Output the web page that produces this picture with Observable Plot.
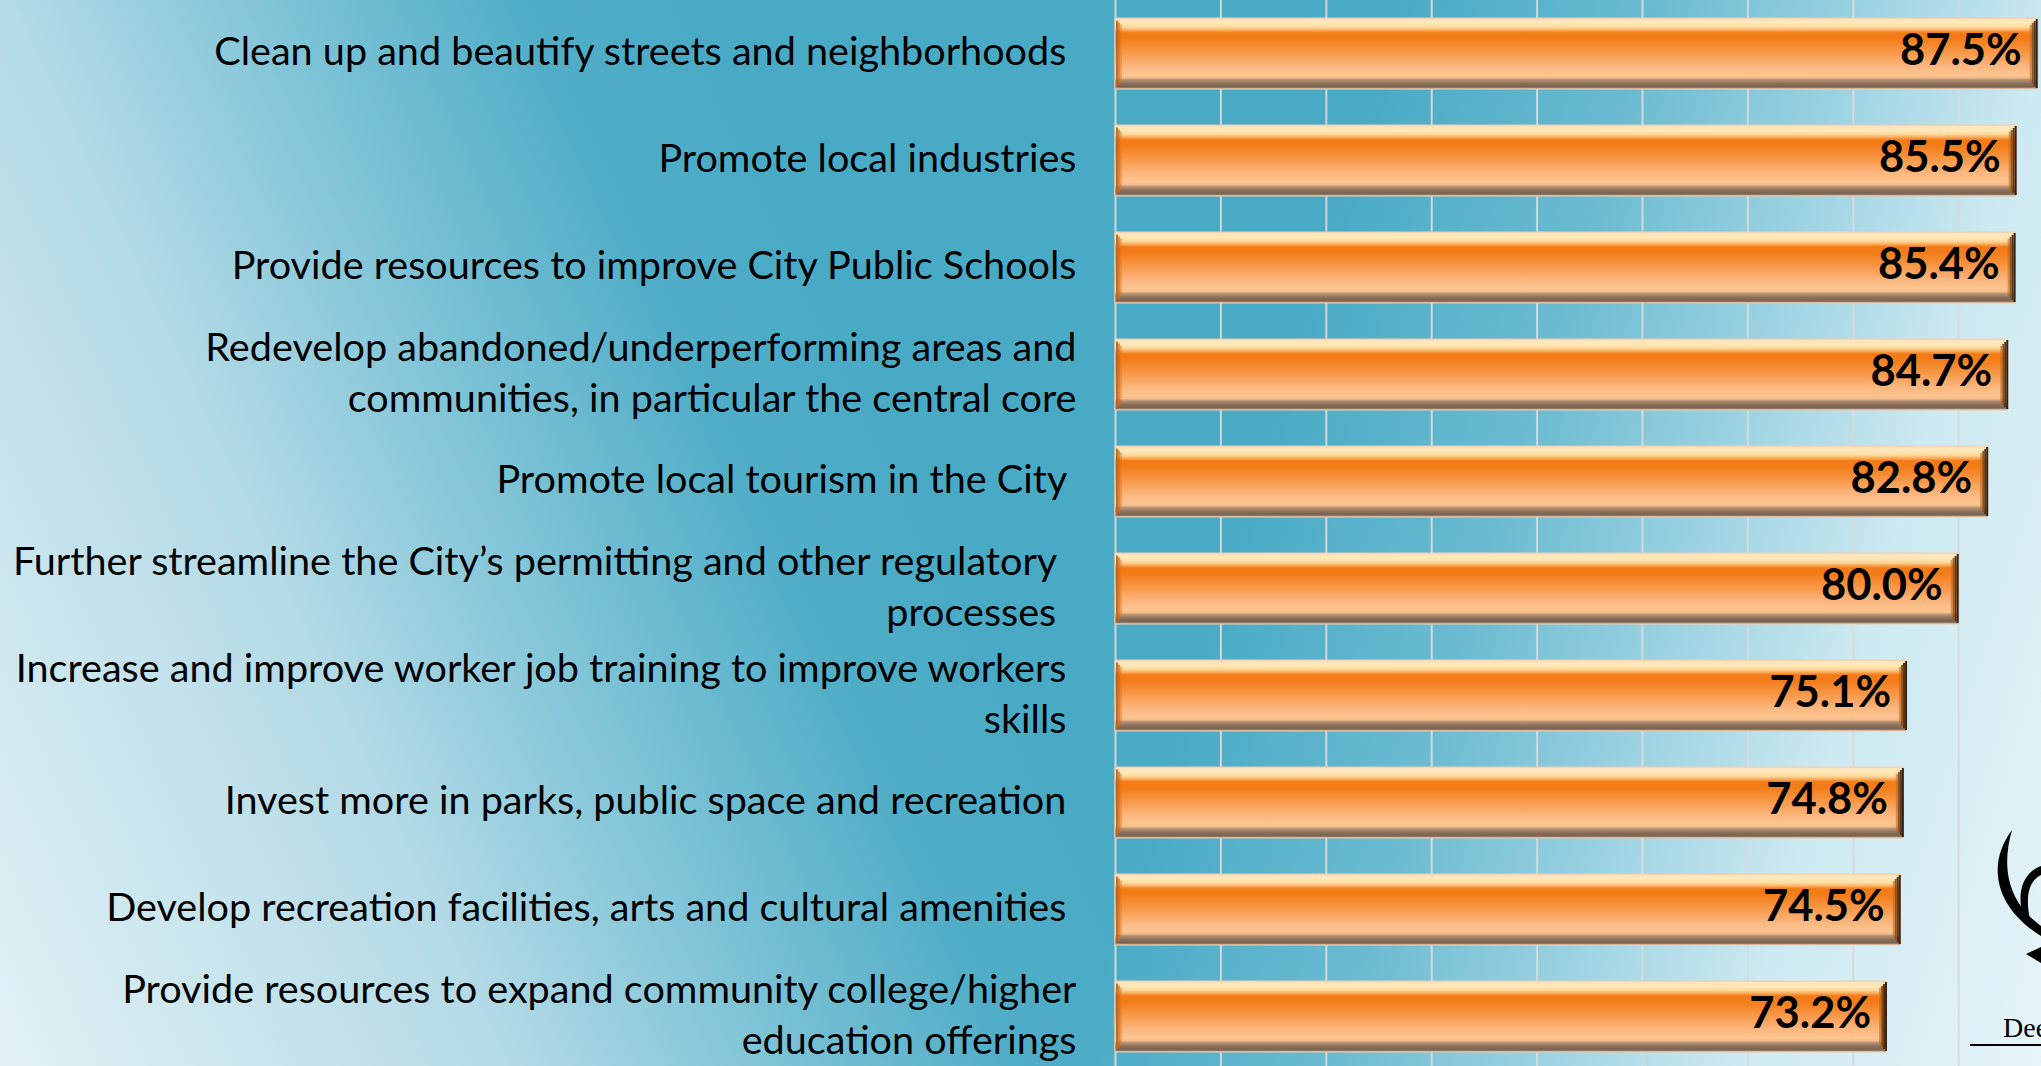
<!DOCTYPE html>
<html>
<head>
<meta charset="utf-8">
<script src="https://cdn.jsdelivr.net/npm/d3@7"></script>
<script src="https://cdn.jsdelivr.net/npm/@observablehq/plot@0.6"></script>
<style>
  html, body { margin: 0; padding: 0; }
  #stage {
    position: relative;
    width: 2041px;
    height: 1066px;
    overflow: hidden;
    background:
      linear-gradient(65deg, rgba(226,241,246,1) 0%, rgba(179,218,230,1) 20%, rgba(134,199,217,0.9) 30%, rgba(88,177,202,0.5) 40%, rgba(73,170,197,0) 47%),
      linear-gradient(107deg, rgba(73,170,197,0) 59%, rgba(120,194,214,0.7) 70%, rgba(172,218,231,0.9) 80%, rgba(205,233,241,1) 87%, rgba(230,244,248,1) 100%),
      #49aac5;
  }
  #chart svg { display: block; }
  #logo { position: absolute; left: 1960px; top: 820px; }
</style>
</head>
<body>
<div id="stage">
  <div id="chart"></div>
  <svg id="logo" width="81" height="246" viewBox="1960 820 81 246">
    <path d="M 2012 830 C 1988 862, 1992 905, 2041 936 L 2041 926 C 2008 902, 2001 868, 2012 830 Z" fill="#000"/>
    <path d="M 2041 866 C 2024 872, 2016 892, 2023 914 L 2030 920 C 2025 896, 2029 881, 2041 875 Z" fill="#000"/>
    <path d="M 2026 954 L 2041 947 L 2041 963 Z" fill="#000"/>
    <text x="2003" y="1037" font-family="Liberation Serif, DejaVu Serif, serif" font-size="28" fill="#000">Dee</text>
    <line x1="1970" y1="1045" x2="2041" y2="1045" stroke="#000" stroke-width="2"/>
  </svg>
</div>
<script>
// ---- data ----
const labels = [
  "Clean up and beautify streets and neighborhoods\u00a0",
  "Promote local industries",
  "Provide resources to improve City Public Schools",
  "Redevelop abandoned/underperforming areas and\ncommunities, in particular the central core",
  "Promote local tourism in the City\u00a0",
  "Further streamline the City\u2019s permitting and other regulatory\u00a0\u00a0\nprocesses\u00a0\u00a0",
  "Increase and improve worker job training to improve workers\u00a0\nskills\u00a0",
  "Invest more in parks, public space and recreation\u00a0",
  "Develop recreation facilities, arts and cultural amenities\u00a0",
  "Provide resources to expand community college/higher\neducation offerings"
];
const values = [87.5, 85.5, 85.4, 84.7, 82.8, 80.0, 75.1, 74.8, 74.5, 73.2];
const gridTicks = [0, 10, 20, 30, 40, 50, 60, 70, 80];

const rows = labels.map((label, i) => ({label, value: values[i]}));

const W = 2041, H = 1066;
const font = "Lato, 'Open Sans', sans-serif";

const rightBevel = [
  {dx: -1, color: "#35231a", inset: 1, op: 1},
  {dx: -3, color: "#553419", inset: 3, op: 1},
  {dx: -5, color: "#86501e", inset: 5, op: 0.95},
  {dx: -7, color: "#c26a22", inset: 7, op: 0.6}
];
const leftBevel = [
  {dx: 1.5, color: "#b8641f", inset: 1.5, op: 0.9},
  {dx: 3.5, color: "#cf6c1c", inset: 3.5, op: 0.7},
  {dx: 5.5, color: "#e2741a", inset: 5.5, op: 0.45}
];

const chart = Plot.plot({
  width: W,
  height: H,
  marginLeft: 1115,
  marginRight: 0,
  marginTop: 0,
  marginBottom: 0,
  style: {background: "transparent", fontFamily: font, overflow: "hidden"},
  x: {domain: [0, (W - 1115) / 10.54], axis: null},
  y: {type: "band", domain: labels, range: [-4, 1075], paddingInner: 0.333, paddingOuter: 0.1665, axis: null},
  marks: [
    Plot.ruleX(gridTicks, {stroke: "#d9d9d9", strokeWidth: 2, strokeOpacity: 0.95}),
    Plot.barX(rows, {x: "value", y: "label", fill: "url(#barGrad)", stroke: "#f0cfb2", strokeWidth: 1}),
    ...rightBevel.map(b => Plot.tickX(rows, {x: "value", y: "label", dx: b.dx, stroke: b.color, strokeWidth: 2, strokeOpacity: b.op, insetTop: b.inset, insetBottom: b.inset})),
    ...leftBevel.map(b => Plot.tickX(rows, {x: 0, y: "label", dx: b.dx, stroke: b.color, strokeWidth: 2, strokeOpacity: b.op, insetTop: b.inset + 1, insetBottom: b.inset + 1})),
    Plot.text(rows, {x: "value", y: "label", text: d => d.value.toFixed(1) + "%", textAnchor: "end", dx: -16, dy: -3, fontSize: 43.5, fontWeight: "bold", fill: "#000", fontFamily: font}),
    Plot.text(rows, {x: 0, y: "label", text: "label", textAnchor: "end", dx: -39, dy: -5, fontSize: 39.6, lineHeight: 1.28, fill: "#000", fontFamily: font})
  ]
});

// gradient definitions for the glossy bars
const ns = "http://www.w3.org/2000/svg";
const defs = document.createElementNS(ns, "defs");
const grad = document.createElementNS(ns, "linearGradient");
grad.setAttribute("id", "barGrad");
grad.setAttribute("x1", "0"); grad.setAttribute("y1", "0");
grad.setAttribute("x2", "0"); grad.setAttribute("y2", "1");
const stops = [
  [0, "#f5cfae"], [0.02, "#fde3bd"], [0.07, "#fee9b9"], [0.13, "#fdd99c"],
  [0.17, "#f9ae5e"], [0.21, "#f47a15"], [0.30, "#f37d1b"], [0.50, "#f89a4c"],
  [0.68, "#fbb77f"], [0.80, "#fdc48f"], [0.84, "#f6bd8a"], [0.87, "#b39277"],
  [0.92, "#8e7059"], [0.97, "#786250"], [1, "#d2b095"]
];
for (const [o, c] of stops) {
  const s = document.createElementNS(ns, "stop");
  s.setAttribute("offset", o);
  s.setAttribute("stop-color", c);
  grad.appendChild(s);
}
defs.appendChild(grad);
chart.insertBefore(defs, chart.firstChild);

document.getElementById("chart").appendChild(chart);
</script>
</body>
</html>
